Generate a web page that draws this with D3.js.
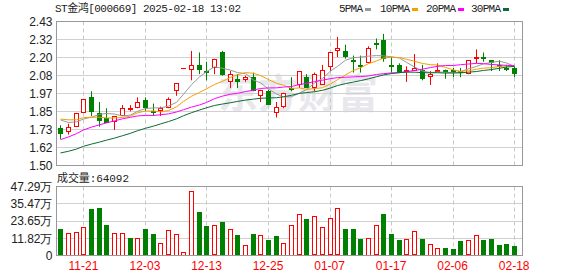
<!DOCTYPE html>
<html>
<head>
<meta charset="utf-8">
<script src="https://cdn.jsdelivr.net/npm/d3@7"></script>
<style>
  body { margin: 0; background: #fff; }
  svg text { font-family: "Liberation Sans", Arial, sans-serif; }
</style>
</head>
<body>
<div id="chart"></div>
<script>
// trading days shown (MM-DD)
const dates = ['11-18','11-19','11-20','11-21','11-22','11-25','11-26','11-27','11-28','11-29',
  '12-02','12-03','12-04','12-05','12-06','12-09','12-10','12-11','12-12','12-13',
  '12-16','12-17','12-18','12-19','12-20','12-23','12-24','12-25','12-26','12-27',
  '12-30','12-31','01-02','01-03','01-06','01-07','01-08','01-09','01-10','01-13',
  '01-14','01-15','01-16','01-17','01-20','01-21','01-22','01-23','01-24','01-27',
  '02-05','02-06','02-07','02-10','02-11','02-12','02-13','02-14','02-17','02-18'];

const open  = [1.74,1.72,1.75,1.84,1.94,1.84,1.81,1.78,1.82,1.86, 1.87,1.92,1.85,1.85,1.87,1.98,2.13,2.12,2.15,2.11,
               2.13,2.23,2.04,2.06,2.05,2.07,1.95,1.98,1.84,1.88, 2.00,2.02,2.07,2.00,2.02,2.13,2.24,2.24,2.18,2.15,
               2.16,2.29,2.31,2.15,2.15,2.11,2.11,2.12,2.07,2.11, 2.12,2.12,2.11,2.09,2.19,2.20,2.18,2.15,2.13,2.13];
const high  = [1.76,1.77,1.84,1.93,1.98,1.91,1.87,1.82,1.89,1.89, 1.94,1.94,1.90,1.88,1.94,2.03,2.13,2.24,2.23,2.17,
               2.19,2.24,2.11,2.09,2.08,2.10,1.99,1.99,1.91,1.97, 2.07,2.11,2.09,2.10,2.15,2.23,2.33,2.28,2.21,2.21,
               2.27,2.32,2.35,2.20,2.16,2.14,2.22,2.15,2.11,2.16, 2.12,2.13,2.13,2.18,2.25,2.23,2.18,2.18,2.15,2.14];
const low   = [1.67,1.70,1.75,1.84,1.82,1.75,1.78,1.73,1.82,1.85, 1.87,1.85,1.82,1.82,1.87,1.95,2.13,2.05,2.09,2.05,
               2.09,2.08,2.00,2.00,2.04,1.98,1.91,1.89,1.81,1.87, 1.98,2.00,2.00,1.98,2.02,2.11,2.20,2.19,2.10,2.10,
               2.16,2.25,2.17,2.10,2.10,2.04,2.11,2.05,2.02,2.11, 2.06,2.07,2.07,2.09,2.16,2.17,2.11,2.11,2.11,2.07];
const close = [1.70,1.75,1.84,1.93,1.84,1.79,1.78,1.82,1.87,1.87, 1.91,1.87,1.84,1.87,1.93,2.03,2.13,2.15,2.12,2.10,
               2.19,2.08,2.09,2.04,2.07,1.98,1.99,1.89,1.88,1.97, 1.99,2.11,2.00,2.09,2.12,2.23,2.26,2.20,2.17,2.14,
               2.26,2.28,2.19,2.14,2.10,2.12,2.13,2.06,2.09,2.12, 2.11,2.11,2.10,2.18,2.20,2.19,2.16,2.14,2.12,2.09];

// volume in 万
const volume = [18.0,15.7,16.4,19.2,31.8,32.5,21.2,15.7,15.7,12.2, 12.2,18.0,14.5,8.8,17.3,15.0,2.5,44.3,30.0,20.1,
                20.6,23.1,18.5,13.8,7.4,14.5,13.8,10.4,13.2,8.8, 21.2,28.2,24.9,26.8,19.2,25.4,32.3,18.0,18.0,11.1,
                12.2,20.8,28.4,14.5,10.4,11.1,16.6,11.1,8.1,5.3, 5.3,4.6,9.7,10.4,14.3,10.4,11.1,6.9,7.6,6.4092];

// closes before the window, estimated from where the MA lines start
const priorCloses = [1.42,1.41,1.40,1.41,1.40,1.41,1.42,1.41,1.40,1.41,
                     1.40,1.42,1.45,1.47,1.50,1.53,1.56,1.60,1.67,1.74,
                     1.80,1.84,1.79,1.81,1.79,1.83,1.82,1.84,1.78];

const priceTickLabels = ['1.50','1.62','1.73','1.85','1.97','2.08','2.20','2.32','2.43'];
const volumeTickLabels = ['0','11.82万','23.65万','35.47万','47.29万'];
const xTickDates = ['11-21','12-03','12-13','12-25','01-07','01-17','02-06','02-18'];
const maNames = ['5PMA','10PMA','20PMA','30PMA'];
const maPeriods = [5, 10, 20, 30];
const maColors = ['#999999', '#f5a000', '#ff00ff', '#0a6b33'];

const w = 578, h = 276;
const left = 56.5, right = 522.5;
const priceTop = 21.5, priceBottom = 165.5;
const volTop = 186.5, volBottom = 255.5;
const red = '#ff0000', green = '#008000';

const svg = d3.select('#chart').append('svg')
  .attr('width', w).attr('height', h);

const x = d3.scaleBand().domain(d3.range(dates.length)).range([left, 518]);
const cx = function(i){ return Math.round(x(i) + x.bandwidth()/2); };

const y = d3.scaleLinear().domain([1.50, 2.43]).range([priceBottom, priceTop]);
const yv = d3.scaleLinear().domain([0, 47.29]).range([volBottom, volTop]);

const priceTicks = d3.range(9).map(function(k){ return 1.50 + k*(2.43-1.50)/8; });
const volTicks = d3.range(5).map(function(k){ return k*47.29/4; });

// watermark
svg.append('text')
  .attr('x', 218).attr('y', 108)
  .style('font-family', '"Noto Sans CJK SC"')
  .style('font-size', '40px').style('font-weight', 'bold')
  .style('fill', '#e8e8ec')
  .text('东方财富');

// grid
function grid(ticks, scale){
  svg.append('g').selectAll('line')
    .data(ticks.slice(1, -1)).enter().append('line')
    .attr('x1', left).attr('x2', right)
    .attr('y1', function(d){ return Math.round(scale(d) - 0.5) + 0.5; })
    .attr('y2', function(d){ return Math.round(scale(d) - 0.5) + 0.5; })
    .style('stroke', '#d0d0d0');
}
grid(priceTicks, y);
grid(volTicks, yv);

const tickIdx = xTickDates.map(function(d){ return dates.indexOf(d); });
[[priceTop, priceBottom], [volTop, volBottom]].forEach(function(r){
  svg.append('g').selectAll('line')
    .data(tickIdx).enter().append('line')
    .attr('x1', function(i){ return cx(i) + 0.5; })
    .attr('x2', function(i){ return cx(i) + 0.5; })
    .attr('y1', r[0]).attr('y2', r[1])
    .style('stroke', '#c8c8c8')
    .style('stroke-dasharray', '4,3');
});

// axes labels
const yAxis = d3.axisLeft(y).tickValues(priceTicks).tickSize(0).tickPadding(4)
  .tickFormat(function(d, i){ return priceTickLabels[i]; });
const vAxis = d3.axisLeft(yv).tickValues(volTicks).tickSize(0).tickPadding(4)
  .tickFormat(function(d, i){ return volumeTickLabels[i]; });
const xAxis = d3.axisBottom(x).tickValues(tickIdx).tickSize(0).tickPadding(6)
  .tickFormat(function(i){ return dates[i]; });

[svg.append('g').attr('transform', 'translate(' + left + ',0)').call(yAxis),
 svg.append('g').attr('transform', 'translate(' + left + ',0)').call(vAxis)].forEach(function(g){
  g.select('.domain').remove();
  g.selectAll('text').style('font-size', '12px').style('fill', '#222')
    .style('font-family', '"Liberation Sans", Arial');
});
const xg = svg.append('g').attr('transform', 'translate(0,' + volBottom + ')').call(xAxis);
xg.select('.domain').remove();
xg.selectAll('text').style('font-size', '12px').style('fill', red)
  .style('font-family', '"Liberation Sans", Arial');

// up/down: vs open, and vs previous close
const allCloses = priorCloses.concat(close);
const k0 = priorCloses.length;
const prevUp = function(i){ return close[i] > allCloses[k0 + i - 1]; };
const candleUp = function(i){ return close[i] === open[i] ? prevUp(i) : close[i] > open[i]; };
const bodyH = function(i){ return Math.round(Math.abs(y(open[i]) - y(close[i]))); };
// thin bodies are drawn solid
const hollow = function(i){ return candleUp(i) && bodyH(i) >= 2; };

// candles
const candles = svg.append('g').selectAll('g')
  .data(d3.range(dates.length)).enter().append('g');

candles.append('line')
  .attr('x1', function(i){ return cx(i) + 0.5; })
  .attr('x2', function(i){ return cx(i) + 0.5; })
  .attr('y1', function(i){ return y(high[i]); })
  .attr('y2', function(i){ return y(low[i]); })
  .style('stroke', function(i){ return candleUp(i) ? red : green; });

candles.append('rect')
  .attr('x', function(i){ return hollow(i) ? cx(i) - 1.5 : cx(i) - 2; })
  .attr('width', function(i){ return hollow(i) ? 4 : 5; })
  .attr('y', function(i){ return Math.round(y(Math.max(open[i], close[i]))) + (hollow(i) ? 0.5 : 0); })
  .attr('height', function(i){ return hollow(i) ? bodyH(i) - 1 : Math.max(1, bodyH(i)); })
  .style('fill', function(i){ return hollow(i) ? '#fff' : (candleUp(i) ? red : green); })
  .style('stroke', function(i){ return hollow(i) ? red : 'none'; });

// moving averages
maPeriods.forEach(function(n, m){
  const ma = close.map(function(c, i){
    return d3.mean(allCloses.slice(k0 + i - n + 1, k0 + i + 1));
  });
  svg.append('path')
    .datum(ma)
    .attr('d', d3.line()
      .x(function(d, i){ return cx(i) + 0.5; })
      .y(function(d){ return y(d); }))
    .style('fill', 'none')
    .style('stroke', maColors[m])
    .style('stroke-width', 1);
});

// volume bars
svg.append('g').selectAll('rect')
  .data(d3.range(dates.length)).enter().append('rect')
  .attr('x', function(i){ return prevUp(i) ? cx(i) - 1.5 : cx(i) - 2; })
  .attr('width', function(i){ return prevUp(i) ? 4 : 5; })
  .attr('y', function(i){ return Math.round(yv(volume[i])) + (prevUp(i) ? 0.5 : 0); })
  .attr('height', function(i){
    const hh = Math.round(volBottom - yv(volume[i]));
    return prevUp(i) ? hh - 1 : hh;
  })
  .style('fill', function(i){ return prevUp(i) ? '#fff' : green; })
  .style('stroke', function(i){ return prevUp(i) ? red : 'none'; });

// frames
[[priceTop, priceBottom], [volTop, volBottom]].forEach(function(r){
  svg.append('rect')
    .attr('x', left).attr('y', r[0])
    .attr('width', right - left).attr('height', r[1] - r[0])
    .style('fill', 'none').style('stroke', '#999');
});

// title, volume label, legend
svg.append('text').attr('x', 55).attr('y', 12)
  .attr('textLength', 186)
  .style('font-family', '"Liberation Mono", "Noto Sans CJK SC", monospace')
  .style('font-size', '11px').style('fill', '#222')
  .text('ST金鸿[000669] 2025-02-18 13:02');

svg.append('text').attr('x', 57).attr('y', 182)
  .attr('textLength', 72)
  .style('font-family', '"Liberation Mono", "Noto Sans CJK SC", monospace')
  .style('font-size', '11px').style('fill', '#222')
  .text('成交量:' + Math.round(volume[volume.length - 1] * 10000));

const legendX = [339, 380, 426, 471];
const legend = svg.selectAll('.legend')
  .data(maNames).enter().append('g')
  .attr('class', 'legend')
  .attr('transform', function(d, i){ return 'translate(' + legendX[i] + ',0)'; });
legend.append('text')
  .attr('y', 12)
  .attr('textLength', function(d){ return d.length * 6; })
  .style('font-family', '"Liberation Mono", monospace')
  .style('font-size', '11px').style('fill', '#222')
  .text(function(d){ return d; });
legend.append('rect')
  .attr('x', function(d){ return d.length * 6 + 2; })
  .attr('y', 8).attr('width', 6).attr('height', 3)
  .style('fill', function(d, i){ return maColors[i]; });
</script>
</body>
</html>
